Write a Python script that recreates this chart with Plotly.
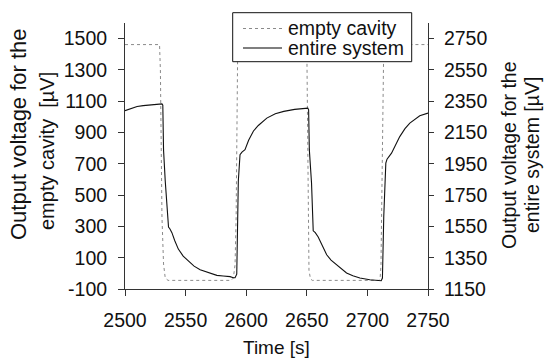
import plotly.graph_objects as go

# ---- data ----
cavity_time = [2500, 2528.5, 2529.2, 2529.9, 2530.5, 2531.8, 2533.2, 2535.5,
               2587.5, 2589.4, 2590.8, 2591.7, 2592.2, 2592.6, 2593,
               2650, 2650.2, 2650.5, 2651, 2651.8, 2653, 2654.5,
               2709.5, 2710.5, 2711.2, 2711.8, 2712.4, 2713, 2713.5, 2750]
cavity_uv = [1462, 1462, 1300, 800, 360, 60, -30, -45,
             -45, -30, 55, 360, 750, 1300, 1462,
             1462, 1300, 800, 360, 20, -35, -45,
             -45, -30, 50, 400, 800, 1300, 1462, 1462]

system_time = [2500, 2505, 2510, 2515, 2520, 2525, 2530.5, 2531.2, 2531.8, 2533.2,
               2534.5, 2535.9, 2537, 2538.7, 2541, 2544, 2548, 2552.4, 2557, 2562,
               2568, 2575.8, 2581, 2586.7, 2589.4, 2590.8, 2592.2, 2593.5, 2594.9, 2596.5,
               2599, 2602, 2606, 2610, 2617, 2624, 2631, 2640, 2650.8, 2651.5,
               2652.1, 2653.9, 2655.3, 2657, 2659.4, 2663, 2666.4, 2670, 2674.6, 2682.8,
               2688, 2693.8, 2702, 2710.2, 2711.4, 2712.4, 2713.5, 2715.2, 2716.2, 2719.9,
               2723, 2726.7, 2731, 2735, 2743.2, 2750]
system_uv = [2290, 2304, 2316, 2322, 2327, 2330, 2333, 2325, 2039, 1840,
             1680, 1546, 1535, 1510, 1460, 1405, 1360, 1326, 1296, 1273,
             1256, 1237, 1233, 1229, 1222, 1222, 1245, 1840, 2008, 2025,
             2040, 2100, 2160, 2195, 2242, 2270, 2285, 2298, 2306, 2295,
             2039, 1827, 1522, 1510, 1482, 1420, 1369, 1335, 1305, 1252,
             1235, 1220, 1209, 1205, 1203, 1220, 1614, 1954, 1980, 2018,
             2070, 2124, 2175, 2210, 2257, 2274]

x_ticks = [2500, 2550, 2600, 2650, 2700, 2750]
left_ticks = [-100, 100, 300, 500, 700, 900, 1100, 1300, 1500]
right_ticks = [1150, 1350, 1550, 1750, 1950, 2150, 2350, 2550, 2750]
series_names = ["empty cavity", "entire system"]

FONT = "Liberation Sans"
AX = "#333333"
TXT = "#111111"
CAV_COLOR = "#8a8a8a"
SYS_COLOR = "#111111"

W, H = 544, 359
ML, MR, MT, MB = 125, 116, 23, 70
PW, PH = W - ML - MR, H - MT - MB


def px(x):
    return (x - ML) / PW


def py(y):
    return (H - MB - y) / PH


fig = go.Figure()
fig.add_trace(go.Scatter(x=cavity_time, y=cavity_uv, mode="lines", name=series_names[0],
                         line=dict(color=CAV_COLOR, width=1, dash="3px,3px"),
                         yaxis="y", showlegend=False, hoverinfo="skip"))
fig.add_trace(go.Scatter(x=system_time, y=system_uv, mode="lines", name=series_names[1],
                         line=dict(color=SYS_COLOR, width=1.1),
                         yaxis="y2", showlegend=False, hoverinfo="skip"))

# legend box (drawn as shapes + text so row spacing matches)
shapes = [
    dict(type="rect", xref="paper", yref="paper", layer="above",
         x0=px(232.7), x1=px(411.7), y0=py(61.7), y1=py(12.7),
         fillcolor="white", line=dict(color="#111111", width=1)),
    dict(type="line", xref="paper", yref="paper", layer="above",
         x0=px(243), x1=px(282), y0=py(28.5), y1=py(28.5),
         line=dict(color=CAV_COLOR, width=1, dash="3px,3px")),
    dict(type="line", xref="paper", yref="paper", layer="above",
         x0=px(243), x1=px(282), y0=py(48), y1=py(48),
         line=dict(color="#555555", width=1.6)),
]
annotations = [
    dict(text=series_names[0], xref="paper", yref="paper", x=px(286), y=py(28),
         xanchor="left", yanchor="middle", showarrow=False, font=dict(size=19.5)),
    dict(text=series_names[1], xref="paper", yref="paper", x=px(286), y=py(48),
         xanchor="left", yanchor="middle", showarrow=False, font=dict(size=19.5)),
    # axis titles
    dict(text="Output voltage for the", xref="paper", yref="paper", x=px(18), y=py(134),
         xanchor="center", yanchor="middle", textangle=-90, showarrow=False,
         font=dict(size=22)),
    dict(text="empty cavity  [µV]", xref="paper", yref="paper", x=px(47), y=py(151),
         xanchor="center", yanchor="middle", textangle=-90, showarrow=False,
         font=dict(size=20)),
    dict(text="Output voltage for the", xref="paper", yref="paper", x=px(509), y=py(155),
         xanchor="center", yanchor="middle", textangle=-90, showarrow=False,
         font=dict(size=19.5)),
    dict(text="entire system [µV]", xref="paper", yref="paper", x=px(532), y=py(155),
         xanchor="center", yanchor="middle", textangle=-90, showarrow=False,
         font=dict(size=19.5)),
    dict(text="Time [s]", xref="paper", yref="paper", x=px(276), y=py(347),
         xanchor="center", yanchor="middle", showarrow=False, font=dict(size=19)),
]

fig.update_layout(
    width=W, height=H,
    margin=dict(l=ML, r=MR, t=MT, b=MB),
    paper_bgcolor="white", plot_bgcolor="white",
    font=dict(family=FONT, size=19.5, color=TXT),
    showlegend=False,
    hovermode=False,
    shapes=shapes,
    annotations=annotations,
    xaxis=dict(range=[2500, 2750], tickvals=x_ticks, ticktext=[str(v) for v in x_ticks],
               showgrid=False, zeroline=False, showline=True, linecolor=AX, linewidth=1,
               ticks="outside", ticklen=6, tickcolor=AX, ticklabelstandoff=8,
               tickfont=dict(size=19.5), automargin=False),
    yaxis=dict(range=[-100, 1600], tickvals=left_ticks, ticktext=[str(v) for v in left_ticks],
               showgrid=False, zeroline=False, showline=True, linecolor=AX, linewidth=1,
               ticks="outside", ticklen=6, tickcolor=AX, ticklabelstandoff=7,
               tickfont=dict(size=19.5), automargin=False),
    yaxis2=dict(range=[1150, 2850], tickvals=right_ticks, ticktext=[str(v) for v in right_ticks],
                overlaying="y", side="right", anchor="x",
                showgrid=False, zeroline=False, showline=True, linecolor=AX, linewidth=1,
                ticks="outside", ticklen=5, tickcolor=AX, ticklabelstandoff=6,
                tickfont=dict(size=19.5), automargin=False),
    yaxis3=dict(range=[1150, 2850], tickvals=right_ticks, overlaying="y", side="right",
                anchor="x", showticklabels=False, showgrid=False, zeroline=False,
                showline=False, ticks="inside", ticklen=5, tickcolor=AX, automargin=False),
)

fig.write_html("out.html", config={"displayModeBar": False},
               post_script="document.body.style.margin='0px';")
